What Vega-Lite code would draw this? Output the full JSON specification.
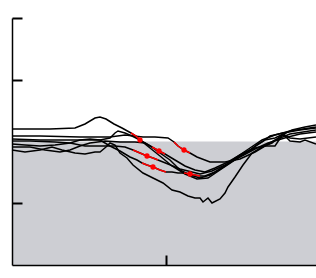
{
  "$schema": "https://vega.github.io/schema/vega-lite/v6.json",
  "width": 304,
  "height": 247,
  "autosize": {"type": "none"},
  "padding": {"left": 12, "top": 18, "right": 0, "bottom": 13},
  "config": {
    "view": {"stroke": null},
    "axis": {"labels": false, "title": null, "grid": false, "domainColor": "black", "domainWidth": 1.5, "tickColor": "black", "tickWidth": 2, "tickSize": -10}
  },
  "datasets": {
    "band": [{"x0": 0, "x1": 304, "y0": 0, "y1": 123.5}],
    "lines": [
      {"s":"L1","x":0,"y":136},{"s":"L1","x":38,"y":136},{"s":"L1","x":63,"y":137},{"s":"L1","x":73,"y":141},{"s":"L1","x":83,"y":147},{"s":"L1","x":88,"y":148},{"s":"L1","x":94,"y":146},{"s":"L1","x":102,"y":141},{"s":"L1","x":110,"y":137},{"s":"L1","x":119,"y":132,"seg":"a"},{"s":"L1","x":124,"y":129,"seg":"a"},{"s":"L1","x":128,"y":125,"seg":"a","dot":1},{"s":"L1","x":138,"y":119},{"s":"L1","x":148,"y":112},{"s":"L1","x":158,"y":105},{"s":"L1","x":168,"y":95},{"s":"L1","x":178,"y":90},{"s":"L1","x":188,"y":87},{"s":"L1","x":198,"y":90},{"s":"L1","x":210,"y":97},{"s":"L1","x":223,"y":107},{"s":"L1","x":238,"y":117},{"s":"L1","x":250,"y":125},{"s":"L1","x":263,"y":130},{"s":"L1","x":278,"y":134},{"s":"L1","x":304,"y":138},
      {"s":"L2","x":0,"y":129},{"s":"L2","x":28,"y":129},{"s":"L2","x":68,"y":128},{"s":"L2","x":98,"y":128},{"s":"L2","x":113,"y":130},{"s":"L2","x":131,"y":128},{"s":"L2","x":143,"y":128},{"s":"L2","x":156,"y":127},{"s":"L2","x":162,"y":123,"seg":"b"},{"s":"L2","x":166,"y":119,"seg":"b"},{"s":"L2","x":172,"y":115,"seg":"b","dot":1},{"s":"L2","x":178,"y":112,"seg":"b"},{"s":"L2","x":185,"y":108},{"s":"L2","x":198,"y":103},{"s":"L2","x":213,"y":103},{"s":"L2","x":228,"y":106},{"s":"L2","x":243,"y":113},{"s":"L2","x":253,"y":119},{"s":"L2","x":263,"y":125},{"s":"L2","x":278,"y":131},{"s":"L2","x":304,"y":135},
      {"s":"L3","x":0,"y":126},{"s":"L3","x":28,"y":125},{"s":"L3","x":68,"y":125},{"s":"L3","x":88,"y":125},{"s":"L3","x":98,"y":127},{"s":"L3","x":103,"y":132},{"s":"L3","x":106,"y":134},{"s":"L3","x":113,"y":132},{"s":"L3","x":120,"y":129},{"s":"L3","x":128,"y":125},{"s":"L3","x":138,"y":117},{"s":"L3","x":148,"y":109},{"s":"L3","x":160,"y":99},{"s":"L3","x":173,"y":91},{"s":"L3","x":185,"y":86},{"s":"L3","x":196,"y":87},{"s":"L3","x":208,"y":95},{"s":"L3","x":223,"y":105},{"s":"L3","x":238,"y":115},{"s":"L3","x":250,"y":123},{"s":"L3","x":258,"y":129},{"s":"L3","x":271,"y":132},{"s":"L3","x":288,"y":135},{"s":"L3","x":304,"y":137},
      {"s":"L4","x":0,"y":124},{"s":"L4","x":18,"y":124},{"s":"L4","x":43,"y":123},{"s":"L4","x":58,"y":122},{"s":"L4","x":73,"y":119},{"s":"L4","x":88,"y":119},{"s":"L4","x":103,"y":119},{"s":"L4","x":113,"y":118},{"s":"L4","x":121,"y":115,"seg":"c"},{"s":"L4","x":128,"y":112,"seg":"c"},{"s":"L4","x":135,"y":109,"seg":"c","dot":1},{"s":"L4","x":141,"y":107,"seg":"c"},{"s":"L4","x":146,"y":105,"seg":"c"},{"s":"L4","x":156,"y":101},{"s":"L4","x":168,"y":96},{"s":"L4","x":180,"y":93},{"s":"L4","x":188,"y":91},{"s":"L4","x":200,"y":94},{"s":"L4","x":213,"y":100},{"s":"L4","x":228,"y":108},{"s":"L4","x":243,"y":116},{"s":"L4","x":256,"y":122},{"s":"L4","x":266,"y":125},{"s":"L4","x":276,"y":128},{"s":"L4","x":288,"y":131},{"s":"L4","x":304,"y":133},
      {"s":"L5","x":0,"y":121},{"s":"L5","x":13,"y":120},{"s":"L5","x":28,"y":119},{"s":"L5","x":43,"y":120},{"s":"L5","x":58,"y":122},{"s":"L5","x":68,"y":125},{"s":"L5","x":78,"y":126},{"s":"L5","x":88,"y":125},{"s":"L5","x":98,"y":119},{"s":"L5","x":108,"y":114},{"s":"L5","x":118,"y":108},{"s":"L5","x":125,"y":105},{"s":"L5","x":130,"y":102,"seg":"d"},{"s":"L5","x":135,"y":100,"seg":"d"},{"s":"L5","x":141,"y":98,"seg":"d","dot":1},{"s":"L5","x":148,"y":95,"seg":"d"},{"s":"L5","x":154,"y":93,"seg":"d"},{"s":"L5","x":160,"y":93},{"s":"L5","x":166,"y":92},{"s":"L5","x":172,"y":92,"seg":"e"},{"s":"L5","x":178,"y":91,"seg":"e","dot":1},{"s":"L5","x":188,"y":89,"seg":"e"},{"s":"L5","x":193,"y":89},{"s":"L5","x":203,"y":93},{"s":"L5","x":216,"y":101},{"s":"L5","x":230,"y":111},{"s":"L5","x":243,"y":117},{"s":"L5","x":253,"y":119},{"s":"L5","x":263,"y":119},{"s":"L5","x":271,"y":131},{"s":"L5","x":278,"y":124},{"s":"L5","x":288,"y":123},{"s":"L5","x":293,"y":125},{"s":"L5","x":304,"y":121},
      {"s":"L6","x":0,"y":118},{"s":"L6","x":18,"y":118},{"s":"L6","x":33,"y":115},{"s":"L6","x":48,"y":113},{"s":"L6","x":58,"y":115},{"s":"L6","x":68,"y":119},{"s":"L6","x":78,"y":122},{"s":"L6","x":93,"y":124},{"s":"L6","x":108,"y":123},{"s":"L6","x":123,"y":123},{"s":"L6","x":133,"y":122},{"s":"L6","x":140,"y":118,"seg":"f"},{"s":"L6","x":147,"y":114,"seg":"f","dot":1},{"s":"L6","x":153,"y":111,"seg":"f"},{"s":"L6","x":163,"y":105},{"s":"L6","x":173,"y":99},{"s":"L6","x":183,"y":95},{"s":"L6","x":193,"y":93},{"s":"L6","x":203,"y":97},{"s":"L6","x":216,"y":103},{"s":"L6","x":228,"y":110},{"s":"L6","x":238,"y":115},{"s":"L6","x":246,"y":121},{"s":"L6","x":253,"y":125},{"s":"L6","x":263,"y":127},{"s":"L6","x":271,"y":131},{"s":"L6","x":278,"y":127},{"s":"L6","x":288,"y":126},{"s":"L6","x":304,"y":128},
      {"s":"L7","x":0,"y":115},{"s":"L7","x":13,"y":113},{"s":"L7","x":28,"y":115},{"s":"L7","x":40,"y":118},{"s":"L7","x":50,"y":115},{"s":"L7","x":63,"y":112},{"s":"L7","x":73,"y":111},{"s":"L7","x":83,"y":113},{"s":"L7","x":88,"y":113},{"s":"L7","x":94,"y":118},{"s":"L7","x":98,"y":122},{"s":"L7","x":103,"y":120},{"s":"L7","x":108,"y":112},{"s":"L7","x":115,"y":107},{"s":"L7","x":121,"y":100},{"s":"L7","x":131,"y":92},{"s":"L7","x":141,"y":87},{"s":"L7","x":151,"y":82},{"s":"L7","x":160,"y":75},{"s":"L7","x":168,"y":73},{"s":"L7","x":176,"y":69},{"s":"L7","x":183,"y":67},{"s":"L7","x":188,"y":67},{"s":"L7","x":191,"y":63},{"s":"L7","x":196,"y":67},{"s":"L7","x":200,"y":62},{"s":"L7","x":208,"y":66},{"s":"L7","x":213,"y":72},{"s":"L7","x":216,"y":78},{"s":"L7","x":223,"y":88},{"s":"L7","x":231,"y":100},{"s":"L7","x":240,"y":112},{"s":"L7","x":250,"y":118},{"s":"L7","x":260,"y":122},{"s":"L7","x":270,"y":130},{"s":"L7","x":280,"y":135},{"s":"L7","x":293,"y":138},{"s":"L7","x":304,"y":140}
    ]
  },
  "layer": [
    {
      "data": {"name": "band"},
      "mark": {"type": "rect", "color": "#cdced3"},
      "encoding": {
        "x": {"field": "x0", "type": "quantitative", "scale": {"domain": [0, 304], "nice": false, "zero": false}, "axis": {"values": [154], "zindex": 2}},
        "x2": {"field": "x1"},
        "y": {"field": "y0", "type": "quantitative", "scale": {"domain": [0, 247], "nice": false, "zero": false}, "axis": {"values": [62, 185, 247], "zindex": 2}},
        "y2": {"field": "y1"}
      }
    },
    {
      "data": {"name": "lines"},
      "mark": {"type": "line", "color": "black", "strokeWidth": 1.5},
      "encoding": {
        "x": {"field": "x", "type": "quantitative"},
        "y": {"field": "y", "type": "quantitative"},
        "detail": {"field": "s"}
      }
    },
    {
      "data": {"name": "lines"},
      "transform": [{"filter": "isValid(datum.seg)"}],
      "mark": {"type": "line", "color": "red", "strokeWidth": 1.5},
      "encoding": {
        "x": {"field": "x", "type": "quantitative"},
        "y": {"field": "y", "type": "quantitative"},
        "detail": {"field": "seg"}
      }
    },
    {
      "data": {"name": "lines"},
      "transform": [{"filter": "datum.dot == 1"}],
      "mark": {"type": "point", "filled": true, "color": "red", "size": 28, "opacity": 1},
      "encoding": {
        "x": {"field": "x", "type": "quantitative"},
        "y": {"field": "y", "type": "quantitative"}
      }
    }
  ]
}
